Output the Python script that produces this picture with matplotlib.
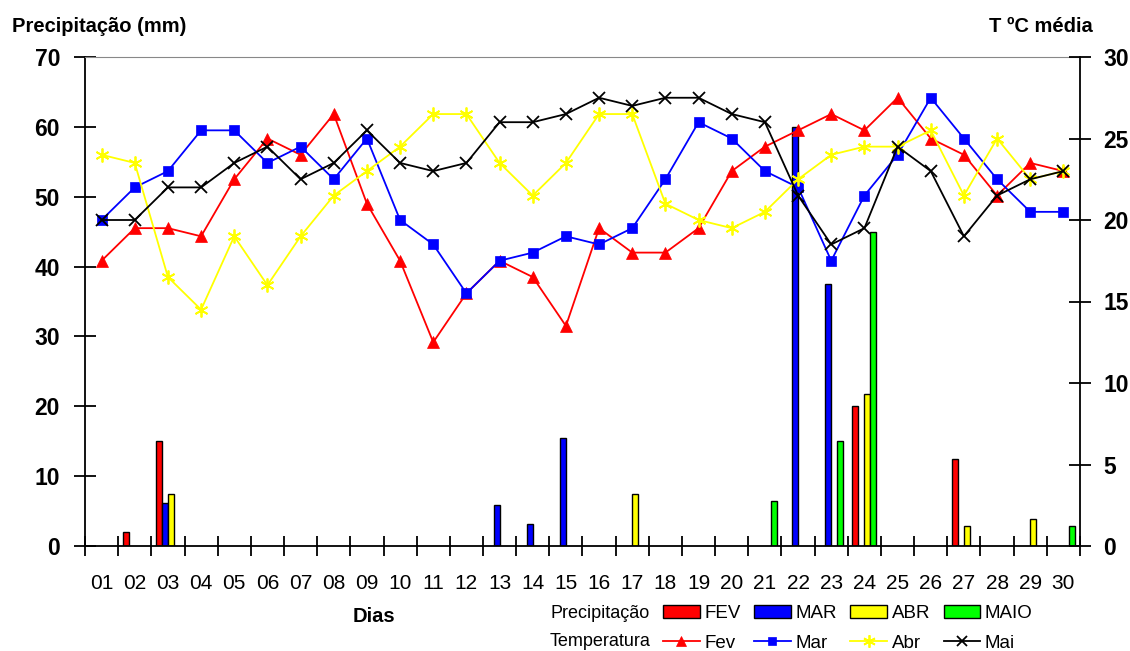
import numpy as np
import matplotlib
matplotlib.use('Agg')
from matplotlib import pyplot as plt
from matplotlib.lines import Line2D
from matplotlib.patches import Patch

plt.rcParams['font.family'] = ['Liberation Sans', 'DejaVu Sans']

dias = ['%02d' % d for d in range(1, 31)]

# precipitacao (mm) - dia: valor
prec_fev = {2: 2.0, 3: 15.0, 24: 20.0, 27: 12.5}
prec_mar = {3: 6.2, 13: 5.8, 14: 3.1, 15: 15.5, 22: 60.0, 23: 37.5}
prec_abr = {3: 7.4, 17: 7.4, 24: 21.8, 27: 2.9, 29: 3.8}
prec_mai = {21: 6.5, 23: 15.0, 24: 45.0, 30: 2.9}

# temperatura media (C)
temp_fev = [17.5, 19.5, 19.5, 19.0, 22.5, 25.0, 24.0, 26.5, 21.0, 17.5,
            12.5, 15.5, 17.5, 16.5, 13.5, 19.5, 18.0, 18.0, 19.5, 23.0,
            24.5, 25.5, 26.5, 25.5, 27.5, 25.0, 24.0, 21.5, 23.5, 23.0]
temp_mar = [20.0, 22.0, 23.0, 25.5, 25.5, 23.5, 24.5, 22.5, 25.0, 20.0,
            18.5, 15.5, 17.5, 18.0, 19.0, 18.5, 19.5, 22.5, 26.0, 25.0,
            23.0, 22.0, 17.5, 21.5, 24.0, 27.5, 25.0, 22.5, 20.5, 20.5]
temp_abr = [24.0, 23.5, 16.5, 14.5, 19.0, 16.0, 19.0, 21.5, 23.0, 24.5,
            26.5, 26.5, 23.5, 21.5, 23.5, 26.5, 26.5, 21.0, 20.0, 19.5,
            20.5, 22.5, 24.0, 24.5, 24.5, 25.5, 21.5, 25.0, 22.5, 23.0]
temp_mai = [20.0, 20.0, 22.0, 22.0, 23.5, 24.5, 22.5, 23.5, 25.5, 23.5,
            23.0, 23.5, 26.0, 26.0, 26.5, 27.5, 27.0, 27.5, 27.5, 26.5,
            26.0, 21.5, 18.5, 19.5, 24.5, 23.0, 19.0, 21.5, 22.5, 23.0]

x = np.arange(1, 31)

def serie(d):
    v = np.zeros(30)
    for k in d:
        v[k - 1] = d[k]
    return v

fig = plt.figure(figsize=(11.3, 6.51), dpi=100)
ax = fig.add_axes([85/1130, 105/651, 995/1130, 489/651])

w = 0.18
precs = [(prec_fev, '#FF0000', 'FEV'), (prec_mar, '#0000FF', 'MAR'),
         (prec_abr, '#FFFF00', 'ABR'), (prec_mai, '#00FF00', 'MAIO')]
for i, (p, c, lab) in enumerate(precs):
    v = serie(p)
    m = v > 0
    ax.bar(x[m] + (i - 1.5) * w, v[m], width=w, color=c, edgecolor='black', linewidth=1.0)

ax.set_xlim(0.5, 30.5)
ax.set_ylim(0, 70)
ax.set_yticks(np.arange(0, 80, 10))
ax.set_xticks(x)
ax.set_xticklabels(dias, fontsize=15)
ax.set_xticks(np.arange(0.5, 31, 1), minor=True)
ax.tick_params(axis='x', which='major', length=0, pad=20)
ax.tick_params(axis='x', which='minor', length=15, width=1.3, direction='inout')
ax.tick_params(axis='y', length=16, width=1.3, direction='inout', pad=10, labelsize=16.5)
for t in ax.get_yticklabels():
    t.set_fontweight('bold')
ax.spines['top'].set_color('#888888')
ax.spines['left'].set_linewidth(1.3)
ax.spines['bottom'].set_linewidth(1.3)
ax.spines['right'].set_visible(False)

ax2 = ax.twinx()
ax2.set_ylim(0, 30)
ax2.set_yticks(np.arange(0, 35, 5))
ax2.tick_params(axis='y', length=16, width=1.3, direction='inout', pad=9, labelsize=16.5)
for t in ax2.get_yticklabels():
    t.set_fontweight('bold')
ax2.spines['right'].set_linewidth(1.3)
ax2.spines['top'].set_visible(False)
ax2.spines['left'].set_visible(False)
ax2.spines['bottom'].set_visible(False)

ast = (6, 2, 0)
temps = [(temp_fev, 'red', '^', 8, 'Fev'), (temp_mar, 'blue', 's', 6.5, 'Mar'),
         (temp_abr, 'yellow', ast, 10, 'Abr'), (temp_mai, 'black', 'x', 8, 'Mai')]
for vals, c, mk, ms, lab in temps:
    ax2.plot(x, vals, color=c, marker=mk, markersize=ms, linewidth=1.3,
             markeredgewidth=1.3 if mk in ('x', ast) else 0.5, markeredgecolor=c)

fig.text(12/1130, 1 - 27/651, 'Precipitação (mm)', fontsize=14.5, fontweight='bold', va='center')
fig.text(1093/1130, 1 - 27/651, 'T ºC média', fontsize=14.5, fontweight='bold', va='center', ha='right')
fig.text(374/1130, 1 - 617/651, 'Dias', fontsize=14.5, fontweight='bold', va='center', ha='center')

handles = []
for (p, c, lab), (vals, lc, mk, ms, tl) in zip(precs, temps):
    handles.append(Patch(facecolor=c, edgecolor='black', linewidth=1.0, label=lab))
    handles.append(Line2D([], [], color=lc, marker=mk, markersize=ms * 0.9, linewidth=1.3,
                          markeredgewidth=1.3 if mk in ('x', ast) else 0.5, markeredgecolor=lc, label=tl))
fig.legend(handles=handles, ncol=4, loc='center left', bbox_to_anchor=(663/1130, 1 - 628.5/651),
           frameon=False, fontsize=13.5, handlelength=1.95, handletextpad=0.25, columnspacing=0.72,
           labelspacing=0.65, borderpad=0, borderaxespad=0, handleheight=0.7)
fig.text(550/1130, 1 - 613/651, 'Precipitação', fontsize=13, va='center')
fig.text(550/1130, 1 - 642/651, 'Temperatura', fontsize=13, va='center')

fig.savefig('out.png', dpi=100)
